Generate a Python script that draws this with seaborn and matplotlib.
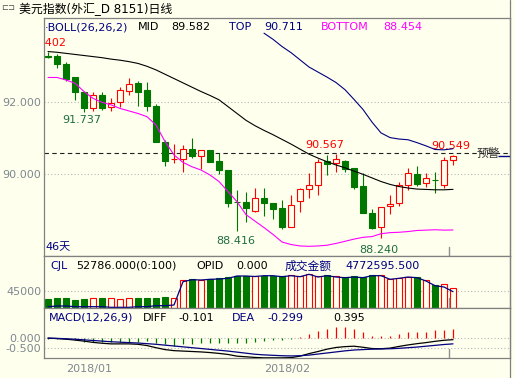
import numpy as np
import pandas as pd
import matplotlib
matplotlib.use('Agg')
import matplotlib.pyplot as plt
from matplotlib.lines import Line2D
import seaborn as sns

# 美元指数 日线, 46天
opens = [93.28, 93.30, 93.06, 92.69, 92.30, 91.83, 92.20, 91.86, 92.02, 92.32,
         92.53, 92.34, 91.90, 90.91, 90.42, 90.43, 90.70, 90.50, 90.67, 90.37,
         90.12, 89.23, 89.23, 88.99, 89.35, 89.21, 89.06, 88.55, 89.27, 89.58,
         89.70, 90.36, 90.32, 90.38, 90.17, 89.68, 88.92, 88.53, 89.12, 89.19,
         89.70, 90.01, 89.75, 89.85, 89.70, 90.40]
highs = [93.402, 93.33, 93.11, 92.71, 92.30, 92.30, 92.28, 92.11, 92.43, 92.67,
         92.59, 92.57, 91.94, 90.95, 90.83, 90.82, 91.00, 90.67, 90.67, 90.58,
         90.12, 89.56, 89.52, 89.61, 89.61, 89.21, 89.30, 89.42, 89.61, 90.03,
         90.42, 90.55, 90.567, 90.40, 90.17, 90.03, 89.05, 89.10, 89.42, 89.80,
         90.17, 90.23, 90.05, 90.07, 90.47, 90.549]
lows = [93.24, 92.96, 92.59, 92.07, 91.737, 91.76, 91.80, 91.77, 91.88, 92.20,
        91.91, 91.76, 90.89, 90.24, 90.31, 90.07, 90.44, 90.14, 90.33, 90.02,
        89.10, 88.416, 88.67, 88.96, 88.85, 88.75, 88.49, 88.53, 88.96, 89.33,
        89.43, 89.98, 90.07, 90.07, 89.58, 88.92, 88.47, 88.24, 88.90, 89.12,
        89.56, 89.68, 89.66, 89.47, 89.62, 90.26]
closes = [93.26, 93.06, 92.65, 92.30, 91.83, 92.20, 91.85, 91.97, 92.34, 92.50,
          92.30, 91.91, 90.91, 90.37, 90.43, 90.69, 90.51, 90.67, 90.35, 90.11,
          89.21, 89.22, 89.06, 89.33, 89.19, 89.05, 88.53, 89.15, 89.58, 89.70,
          90.35, 90.30, 90.42, 90.14, 89.66, 88.92, 88.50, 89.10, 89.17, 89.70,
          90.05, 89.73, 89.89, 89.84, 90.39, 90.51]

boll_mid = [93.41, 93.39, 93.36, 93.33, 93.30, 93.27, 93.24, 93.20, 93.17, 93.13,
            93.08, 93.00, 92.90, 92.78, 92.66, 92.54, 92.42, 92.30, 92.19, 92.07,
            91.88, 91.69, 91.50, 91.35, 91.22, 91.10, 90.97, 90.84, 90.70, 90.56,
            90.45, 90.35, 90.26, 90.18, 90.09, 90.00, 89.90, 89.80, 89.72, 89.66,
            89.62, 89.59, 89.58, 89.57, 89.57, 89.582]
boll_top = [np.nan] * 24 + [93.92, 93.75, 93.55, 93.38, 93.18, 92.98, 92.84, 92.70,
                            92.55, 92.35, 92.08, 91.80, 91.45, 91.15, 91.02, 90.98,
                            90.96, 90.88, 90.79, 90.69, 90.68, 90.711]
boll_bot = [92.69, 92.69, 92.62, 92.53, 92.30, 92.11, 92.00, 91.93, 91.83, 91.76,
            91.69, 91.60, 91.37, 90.91, 90.54, 90.33, 90.21, 90.12, 89.98, 89.80,
            89.52, 89.24, 88.88, 88.70, 88.52, 88.33, 88.12, 88.05, 88.01, 88.00,
            88.01, 88.03, 88.08, 88.14, 88.20, 88.25, 88.27, 88.35, 88.38, 88.39,
            88.41, 88.44, 88.45, 88.46, 88.45, 88.454]

volume = [24200, 26800, 26800, 20800, 24200, 26800, 26800, 26800, 24200, 26800,
          26800, 26800, 26800, 29400, 26800, 72800, 75400, 72800, 74600, 77200,
          79800, 84000, 84000, 82400, 84000, 84000, 82400, 85000, 82400, 87600,
          82400, 85000, 82400, 80600, 82400, 80600, 85000, 85000, 75400, 77200,
          81500, 80600, 72800, 59800, 61600, 52786]
amount = [3400, 5200, 5200, 3400, 3400, 3400, 3400, 1800, 1800, 1800,
          3400, 3400, 6000, 6000, 7800, 68400, 73600, 72800, 74600, 75400,
          77200, 83200, 83200, 81900, 84000, 84000, 81400, 84000, 81400, 87600,
          80600, 84000, 80600, 78800, 80600, 78800, 84000, 84000, 74600, 77200,
          80600, 78800, 70200, 58000, 54600, 42400]

diff = [-0.03, -0.05, -0.08, -0.12, -0.17, -0.23, -0.27, -0.30, -0.30, -0.30,
        -0.32, -0.38, -0.48, -0.57, -0.62, -0.64, -0.66, -0.68, -0.71, -0.75,
        -0.80, -0.88, -0.91, -0.94, -0.96, -0.96, -0.96, -0.95, -0.88, -0.76,
        -0.66, -0.55, -0.47, -0.43, -0.41, -0.46, -0.52, -0.53, -0.50, -0.42,
        -0.35, -0.29, -0.24, -0.18, -0.13, -0.101]
dea = [-0.03, -0.04, -0.06, -0.08, -0.11, -0.14, -0.17, -0.20, -0.22, -0.24,
       -0.26, -0.29, -0.32, -0.36, -0.40, -0.44, -0.48, -0.52, -0.56, -0.60,
       -0.64, -0.69, -0.74, -0.79, -0.82, -0.84, -0.86, -0.87, -0.86, -0.83,
       -0.78, -0.73, -0.68, -0.63, -0.59, -0.57, -0.55, -0.54, -0.53, -0.51,
       -0.48, -0.45, -0.41, -0.37, -0.33, -0.299]
macd = [-0.06, -0.06, -0.09, -0.14, -0.19, -0.19, -0.19, -0.22, -0.22, -0.22,
        -0.19, -0.16, -0.27, -0.31, -0.38, -0.31, -0.31, -0.27, -0.27, -0.27,
        -0.27, -0.27, -0.24, -0.19, -0.16, -0.11, -0.11, -0.06, 0.03, 0.16,
        0.31, 0.41, 0.50, 0.50, 0.41, 0.28, 0.08, 0.08, 0.05, 0.16,
        0.25, 0.28, 0.28, 0.36, 0.36, 0.395]

warn_level = 90.58
price_ticks = [90.0, 92.0]
vol_ticks = [45000]
macd_ticks = [0.0, -0.5]
date_ticks = [2, 24]
date_labels = ['2018/01', '2018/02']
hi_marks = [(0, '93.402', (-1, 9)), (32, '90.567', (-11, 9)), (45, '90.549', (-2, 9))]
lo_marks = [(4, '91.737', (-2, -8)), (21, '88.416', (-1, -10)), (37, '88.240', (-2, -12))]

df = pd.DataFrame({'i': np.arange(len(opens)), 'open': opens, 'high': highs,
                   'low': lows, 'close': closes, 'mid': boll_mid, 'top': boll_top,
                   'bot': boll_bot, 'vol': volume, 'amt': amount,
                   'diff': diff, 'dea': dea, 'macd': macd})
df['up'] = df['close'] >= df['open']

BG = '#FFFFEE'
RED = '#FF0000'
GRN = '#007800'
NAVY = '#000080'
MAG = '#FF00FF'
AXC = '#7F8890'
SPC = '#808080'

sns.set_theme(style='white')
plt.rcParams['font.family'] = ['DejaVu Sans', 'Noto Sans CJK SC']

W, H = 514, 378
fig = plt.figure(figsize=(W / 100, H / 100), dpi=100, facecolor=BG)


def rect(x0, y0, x1, y1):
    return [x0 / W, 1 - y1 / H, (x1 - x0) / W, (y1 - y0) / H]


def put(x, y, s, color='black', size=8, ha='left'):
    fig.text(x / W, 1 - y / H, s, color=color, fontsize=size, ha=ha, va='center')


ax_k = fig.add_axes(rect(44, 18, 510, 256))
ax_v = fig.add_axes(rect(44, 256, 510, 308))
ax_m = fig.add_axes(rect(44, 308, 510, 358))

for ax in (ax_k, ax_v, ax_m):
    ax.set_facecolor(BG)
    ax.set_xlim(-0.444, 51.33)
    for s in ax.spines.values():
        s.set_color(SPC)
        s.set_linewidth(0.9)
    ax.tick_params(axis='y', length=0, pad=2, labelsize=8, labelcolor=AXC)
    ax.tick_params(axis='x', length=0)
    ax.set_xlabel('')
    ax.set_ylabel('')

col = np.where(df['up'], RED, GRN)
face = np.where(df['up'], BG, GRN)
body_lo = np.minimum(df['open'], df['close'])
body_h = np.maximum(np.abs(df['close'] - df['open']), 0.004)

# K线
ax_k.set_ylim(87.731, 94.342)
ax_k.vlines(df['i'], df['low'], df['high'], colors=col, lw=0.8, zorder=2)
ax_k.bar(df['i'], body_h, bottom=body_lo, width=0.72, color=face,
         edgecolor=col, linewidth=0.8, zorder=3)
sns.lineplot(data=df, x='i', y='mid', ax=ax_k, color='black', lw=0.8, estimator=None, zorder=4)
sns.lineplot(data=df, x='i', y='top', ax=ax_k, color=NAVY, lw=0.8, estimator=None, zorder=4)
sns.lineplot(data=df, x='i', y='bot', ax=ax_k, color=MAG, lw=0.8, estimator=None, zorder=4)
for t in price_ticks:
    ax_k.axhline(t, color='#B8B8B8', lw=0.8, ls=(0, (1, 2)), zorder=1)
ax_k.axhline(warn_level, color='#202020', lw=0.8, ls=(0, (4, 3)), zorder=1)
ax_k.hlines(df['close'].iloc[-1], 50.0, 51.4, color=NAVY, lw=1, zorder=4)
ax_k.axvline(44.5, 0, 0.038, color='#909090', lw=1)
ax_k.set_yticks(price_ticks, labels=['%.3f' % t for t in price_ticks])
ax_k.set_xticks([])
for i, s, off in hi_marks:
    ax_k.annotate(s, xy=(i, highs[i]), xytext=off, textcoords='offset pixels',
                  ha='center', va='center', color=RED, fontsize=8, annotation_clip=False,
                  clip_on=True)
for i, s, off in lo_marks:
    ax_k.annotate(s, xy=(i, lows[i]), xytext=off, textcoords='offset pixels',
                  ha='center', va='center', color='#1E6E3C', fontsize=8)

# 成交量
ax_v.set_ylim(0, 135250)
ax_v.bar(df['i'], df['vol'], width=0.72, color=face, edgecolor=col, linewidth=0.8, zorder=2)
sns.lineplot(data=df, x='i', y='amt', ax=ax_v, color=NAVY, lw=0.9, estimator=None, zorder=3)
for t in vol_ticks:
    ax_v.axhline(t, color='#B8B8B8', lw=0.8, ls=(0, (1, 2)), zorder=1)
ax_v.axvline(44.5, 0, 0.19, color='#909090', lw=1)
ax_v.set_yticks(vol_ticks, labels=[str(t) for t in vol_ticks])
ax_v.set_xticks([])
ax_v.set_xlabel('')
ax_v.set_ylabel('')

# MACD
ax_m.set_ylim(-0.967, 1.394)
mcol = np.where(df['macd'] >= 0, RED, GRN)
ax_m.vlines(df['i'], 0, df['macd'], colors=mcol, lw=0.9, zorder=2)
sns.lineplot(data=df, x='i', y='diff', ax=ax_m, color='black', lw=0.9, estimator=None, zorder=3)
sns.lineplot(data=df, x='i', y='dea', ax=ax_m, color=NAVY, lw=0.9, estimator=None, zorder=3)
for t in macd_ticks:
    ax_m.axhline(t, color='#B8B8B8', lw=0.8, ls=(0, (1, 2)), zorder=1)
ax_m.axvline(44.5, 0, 0.18, color='#909090', lw=1)
ax_m.set_yticks(macd_ticks, labels=['%.3f' % t for t in macd_ticks])
ax_m.set_xticks(date_ticks, labels=date_labels)
ax_m.tick_params(axis='x', pad=4, labelsize=8, labelcolor=AXC)
for lab in ax_m.get_xticklabels():
    lab.set_ha('left')
ax_m.set_xlabel('')
ax_m.set_ylabel('')
ax_k.set_xlabel('')
ax_k.set_ylabel('')

# 右边框
fig.add_artist(Line2D([510 / W, 510 / W], [0, 1], color=SPC, lw=0.9))

# 标题和指标说明
put(1, 8, '⊏⊐', color='#505050', size=6)
put(19, 9, '美元指数(外汇_D 8151)日线', size=8.6)
put(45, 27, '·BOLL(26,26,2)', color=NAVY)
put(138, 27, 'MID')
put(171, 27, '89.582')
put(229, 27, 'TOP', color=NAVY)
put(264, 27, '90.711', color=NAVY)
put(321, 27, 'BOTTOM', color=MAG)
put(383, 27, '88.454', color=MAG)
put(45, 247, '46天', color=NAVY)
put(477, 153, '预警', color='#303030', size=8.5)

put(50, 266, 'CJL', color=NAVY)
put(76, 266, '52786.000(0:100)')
put(196, 266, 'OPID')
put(236, 266, '0.000')
put(285, 266, '成交金额', color=NAVY, size=8.5)
put(345, 266, '4772595.500', color=NAVY)

put(49, 318, 'MACD(12,26,9)', color=NAVY)
put(143, 318, 'DIFF')
put(178, 318, '-0.101')
put(232, 318, 'DEA', color=NAVY)
put(267, 318, '-0.299', color=NAVY)
put(333, 318, '0.395')

fig.savefig('out.png', dpi=100, facecolor=BG)
